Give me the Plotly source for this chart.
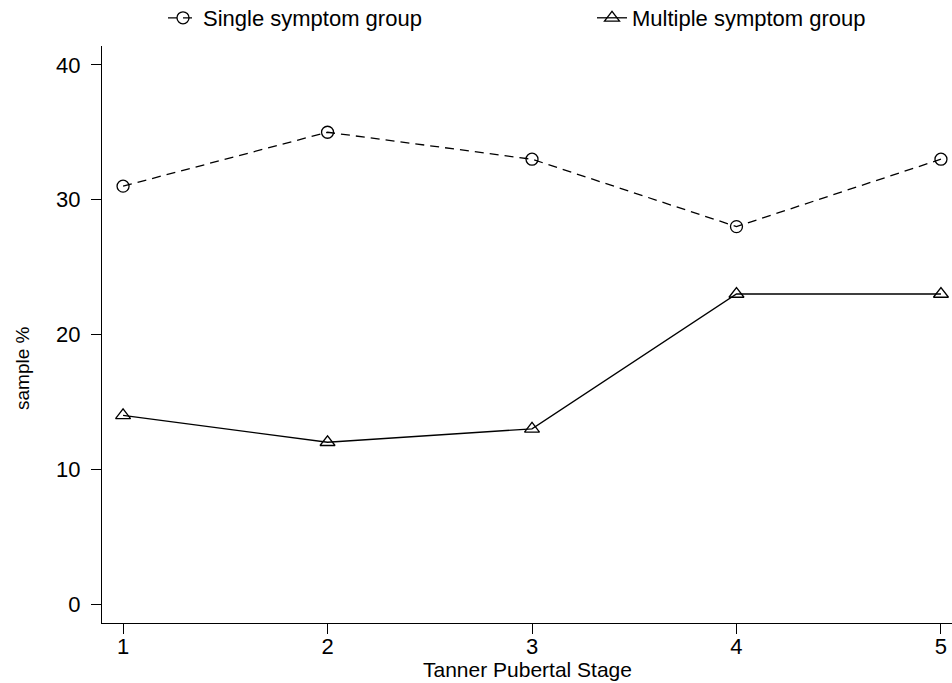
import plotly.graph_objects as go

stages = [1, 2, 3, 4, 5]
single_symptom = [31, 35, 33, 28, 33]
multiple_symptom = [14, 12, 13, 23, 23]
y_ticks = [0, 10, 20, 30, 40]

FONT = "Liberation Sans, Arial, sans-serif"

fig = go.Figure()
fig.add_trace(go.Scatter(
    x=stages, y=single_symptom, mode="lines+markers",
    name="Single symptom group", legend="legend",
    line=dict(color="black", width=1.3, dash="9px,6px"),
    marker=dict(symbol="circle-open", size=12, color="black", line=dict(width=1.3)),
    cliponaxis=False,
))
fig.add_trace(go.Scatter(
    x=stages, y=multiple_symptom, mode="lines+markers",
    name="Multiple symptom group", legend="legend2",
    line=dict(color="black", width=1.3),
    marker=dict(symbol="triangle-up-open", size=13, color="black", line=dict(width=1.3)),
    cliponaxis=False,
))

legend_common = dict(
    orientation="h", yref="container", y=1 - 18 / 683, yanchor="middle",
    xref="container", xanchor="left",
    font=dict(family=FONT, size=22, color="black"),
    bgcolor="rgba(0,0,0,0)", borderwidth=0,
)

fig.update_layout(
    width=952, height=683,
    margin=dict(l=102, r=0, t=46, b=60, autoexpand=False),
    paper_bgcolor="white", plot_bgcolor="white",
    font=dict(family=FONT, size=22, color="black"),
    showlegend=True,
    legend=dict(legend_common, x=163 / 952),
    legend2=dict(legend_common, x=592 / 952),
    xaxis=dict(
        range=[0.897, 5.054], tickvals=stages, ticktext=[str(s) for s in stages],
        showgrid=False, zeroline=False, showline=True, linecolor="black", linewidth=1.2,
        ticks="outside", ticklen=10, tickcolor="black", tickwidth=1.2,
        ticklabelstandoff=-7,
        tickfont=dict(size=22, color="black"),
    ),
    yaxis=dict(
        range=[-1.41, 41.4], tickvals=y_ticks,
        showgrid=False, zeroline=False, showline=True, linecolor="black", linewidth=1.2,
        ticks="outside", ticklen=10, tickcolor="black", tickwidth=1.2,
        ticklabelstandoff=6,
        tickfont=dict(size=22, color="black"),
    ),
    annotations=[
        dict(
            text="Tanner Pubertal Stage", showarrow=False,
            xref="paper", x=0.5, xanchor="center",
            yref="paper", y=(623 - 669) / 577, yanchor="middle",
            font=dict(family=FONT, size=21, color="black"),
        ),
        dict(
            text="sample %", showarrow=False, textangle=-90,
            xref="paper", x=(22 - 102) / 850, xanchor="center",
            yref="paper", y=(623 - 368) / 577, yanchor="middle",
            font=dict(family=FONT, size=19, color="black"),
        ),
    ],
)

fig.write_html(
    "out.html",
    config={"displayModeBar": False},
    post_script="document.body.style.margin='0';document.body.style.overflow='hidden';",
)
